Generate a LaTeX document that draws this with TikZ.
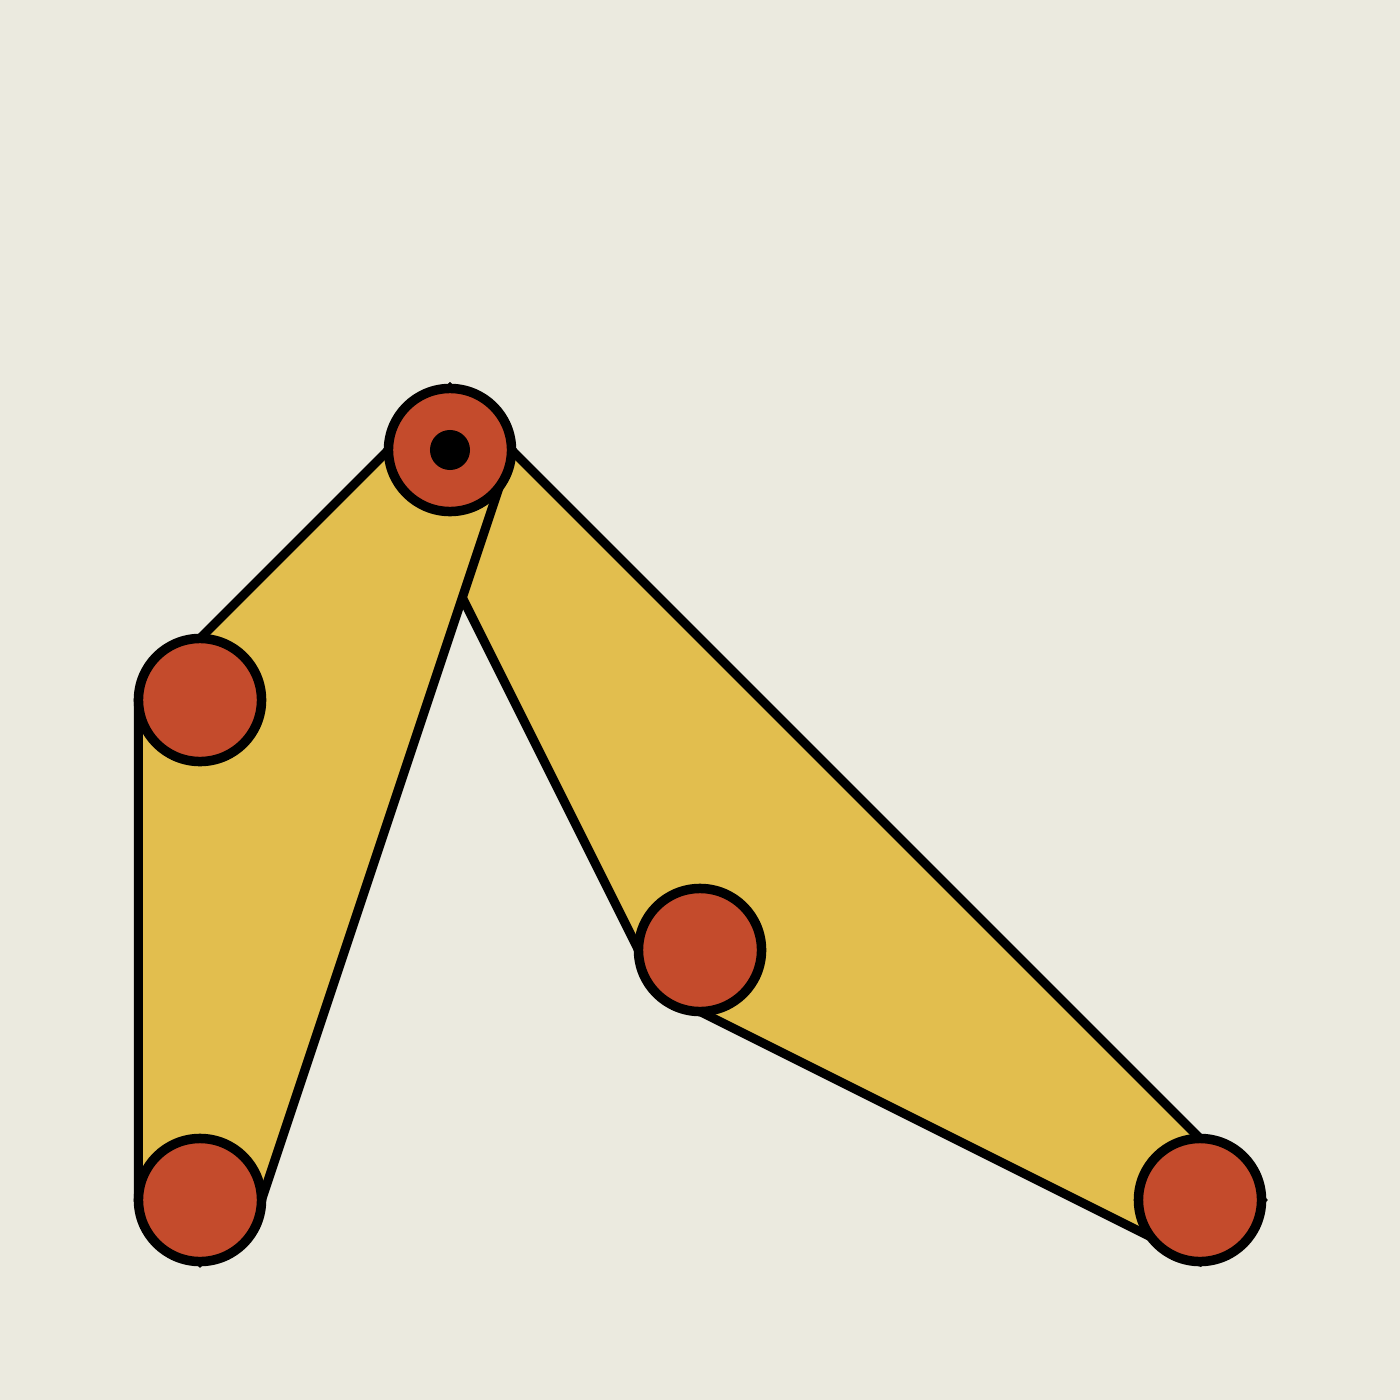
\documentclass[tikz,border=0pt]{standalone}
\definecolor{bgc}{RGB}{235,234,223}
\definecolor{linkc}{RGB}{226,190,78}
\definecolor{jointc}{RGB}{196,75,44}
\pgfdeclarelayer{back}
\pgfdeclarelayer{links}
\pgfsetlayers{back,links,main}
\tikzset{
  joint/.style={circle, draw=black, fill=jointc, line width=0.095cm, minimum size=1.23cm, inner sep=0pt, outer sep=0pt},
  pin/.style={circle, fill=black, minimum size=0.4cm, inner sep=0pt},
  linkbar/.style={draw=black, fill=linkc, line width=0.09cm, line join=miter}
}
\begin{document}
\begin{tikzpicture}[x=0.01cm,y=-0.01cm]
\begin{pgfonlayer}{back}
\fill[bgc] (0,0) rectangle (1400,1400);
\end{pgfonlayer}
\useasboundingbox (0,0) rectangle (1400,1400);
% joints
\node[joint] (A) at (450,450) {};
\node[joint] (B) at (200,700) {};
\node[joint] (C) at (200,1200) {};
\node[joint] (D) at (700,950) {};
\node[joint] (E) at (1200,1200) {};
\node[pin] (P) at (A.center) {};
% links (below the joints)
\begin{pgfonlayer}{links}
\draw[linkbar] (A.west) -- (A.north) -- (E.north) -- (E.east) -- (E.south) -- (D.south) -- (D.west) -- cycle;
\draw[linkbar] (A.north) -- (B.north) -- (B.west) -- (C.west) -- (C.south) -- (C.east) -- (A.east) -- cycle;
\end{pgfonlayer}
\end{tikzpicture}
\end{document}
